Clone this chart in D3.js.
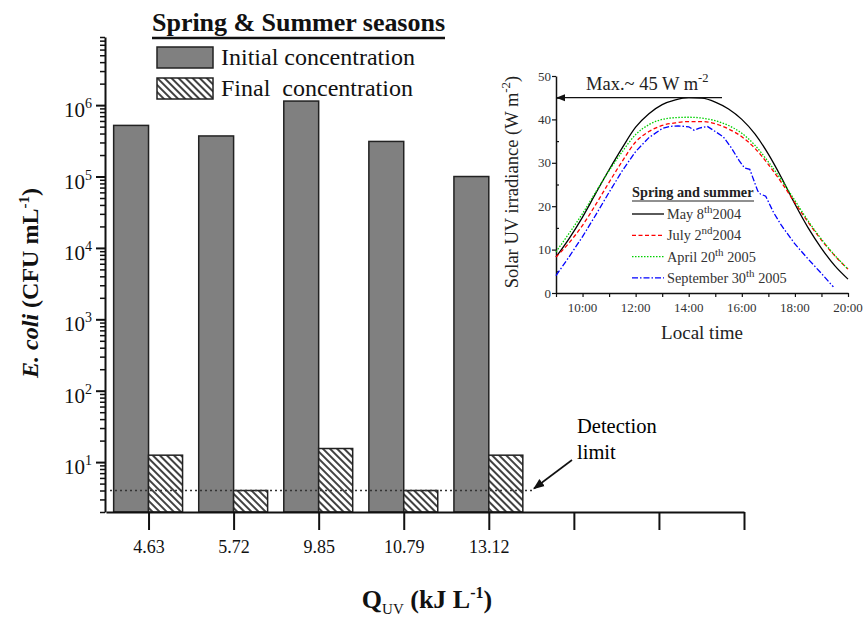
<!DOCTYPE html>
<html>
<head>
<meta charset="utf-8">
<script src="https://d3js.org/d3.v7.min.js"></script>
<style>
  body { margin: 0; background: #fff; }
  svg { font-family: "Liberation Serif", "Times New Roman", serif; }
</style>
</head>
<body>
<script>
// Main chart data
const categories = ["4.63", "5.72", "9.85", "10.79", "13.12", "", "", ""];
const initialConc = [5.2e5, 3.7e5, 1.14e6, 3.1e5, 1.0e5];
const finalConc = [12.5, 4, 15.5, 4, 12.5];
const detectionLimit = 4;
const yExponents = [1, 2, 3, 4, 5, 6];

// Inset data (solar UV irradiance, W m-2, vs local time in hours)
const uvHours = [9, 9.5, 10, 10.5, 11, 11.5, 12, 12.5, 13, 13.5, 14, 14.5, 15, 15.5, 16, 16.5, 17, 17.5, 18, 18.5, 19, 19.5, 20];
const may2004 = [8.3, 12.6, 17.5, 23.0, 28.4, 33.5, 38.2, 41.3, 43.4, 44.5, 45.0, 44.9, 44.0, 42.4, 40.0, 36.6, 32.0, 26.5, 20.5, 15.0, 10.3, 6.3, 3.2];
const july2004 = [8.3, 11.6, 15.6, 20.4, 25.5, 30.4, 34.8, 37.2, 38.6, 39.2, 39.5, 39.5, 39.0, 37.8, 36.0, 33.3, 29.6, 25.4, 20.8, 16.3, 12.2, 8.6, 5.5];
const april2005 = [9.5, 13.8, 18.3, 23.3, 28.2, 32.6, 36.5, 38.8, 40.0, 40.4, 40.5, 40.3, 39.7, 38.6, 36.8, 34.0, 30.2, 26.0, 21.3, 16.6, 12.4, 8.7, 5.5];
const septHours = [9, 9.5, 10, 10.5, 11, 11.5, 12, 12.5, 13, 13.3, 13.6, 14.0, 14.2, 14.4, 14.7, 15.0, 15.3, 15.6, 15.9, 16.1, 16.3, 16.6, 16.7, 16.9, 17.2, 17.5, 18, 18.5, 19, 19.45];
const sept2005 = [4.0, 8.4, 13.0, 18.0, 23.2, 28.2, 32.6, 35.8, 37.9, 38.4, 38.5, 38.3, 37.5, 38.0, 38.4, 37.2, 36.0, 33.5, 30.5, 28.8, 28.5, 23.5, 22.8, 22.3, 18.5, 15.5, 11.3, 7.8, 4.5, 1.4];
const insetHourTicks = [10, 12, 14, 16, 18, 20];
const insetYTicks = [0, 10, 20, 30, 40, 50];

const width = 866;
const height = 617;

const svg = d3.select("body").append("svg")
  .attr("width", width)
  .attr("height", height);

svg.append("rect").attr("width", width).attr("height", height).attr("fill", "#fff");

// hatch pattern for final concentration
const defs = svg.append("defs");
defs.append("pattern")
  .attr("id", "hatch")
  .attr("patternUnits", "userSpaceOnUse")
  .attr("width", 5)
  .attr("height", 5)
  .attr("patternTransform", "rotate(-45)")
  .call(function (p) {
    p.append("rect").attr("width", 5).attr("height", 5).attr("fill", "#fff");
    p.append("line").attr("x1", 1).attr("y1", 0).attr("x2", 1).attr("y2", 5)
      .attr("stroke", "#111").attr("stroke-width", 1.6);
  });

defs.append("marker")
  .attr("id", "arrow")
  .attr("viewBox", "0 0 10 10")
  .attr("refX", 9).attr("refY", 5)
  .attr("markerWidth", 7).attr("markerHeight", 7)
  .attr("orient", "auto-start-reverse")
  .append("path").attr("d", "M0,1L10,5L0,9Z").attr("fill", "#111");

// scales of the main chart
const x = d3.scaleLinear().domain([-0.5, 7]).range([106, 744]);
const y = d3.scaleLog().domain([2, 9e6]).range([512, 37]);

// bars
const barW0 = 0.41;
const barW1 = 0.4;

svg.append("g").selectAll("rect")
  .data(initialConc)
  .join("rect")
  .attr("x", (d, i) => x(i - barW0))
  .attr("width", (d, i) => x(i) - x(i - barW0))
  .attr("y", d => y(d))
  .attr("height", d => y(2) - y(d))
  .attr("fill", "#808080")
  .attr("stroke", "#222")
  .attr("stroke-width", 1.5);

svg.append("g").selectAll("rect")
  .data(finalConc)
  .join("rect")
  .attr("x", (d, i) => x(i))
  .attr("width", (d, i) => x(i + barW1) - x(i))
  .attr("y", d => y(d))
  .attr("height", d => y(2) - y(d))
  .attr("fill", "url(#hatch)")
  .attr("stroke", "#222")
  .attr("stroke-width", 1.5);

// detection limit
svg.append("line")
  .attr("x1", 110).attr("x2", 533)
  .attr("y1", y(detectionLimit)).attr("y2", y(detectionLimit))
  .attr("stroke", "#333")
  .attr("stroke-width", 1.6)
  .attr("stroke-dasharray", "2,3");

svg.append("line")
  .attr("x1", 572).attr("y1", 460)
  .attr("x2", 534).attr("y2", y(detectionLimit) - 2)
  .attr("stroke", "#111")
  .attr("stroke-width", 1.6)
  .attr("marker-end", "url(#arrow)");

svg.append("text").attr("x", 577).attr("y", 433).attr("font-size", 20.5).text("Detection");
svg.append("text").attr("x", 577).attr("y", 459).attr("font-size", 20.5).text("limit");

// x axis
const xAxis = svg.append("g")
  .attr("transform", `translate(0,${y(2)})`)
  .call(d3.axisBottom(x)
    .tickValues(d3.range(categories.length))
    .tickSize(18)
    .tickSizeOuter(0)
    .tickPadding(10)
    .tickFormat(i => categories[i]));
xAxis.select(".domain").attr("stroke", "#111").attr("stroke-width", 2);
xAxis.selectAll(".tick line").attr("stroke", "#111").attr("stroke-width", 2);
xAxis.selectAll(".tick text")
  .attr("font-family", "Liberation Serif")
  .attr("font-size", 18)
  .attr("fill", "#111");

// y axis: minor ticks, then majors
const minorTicks = [];
for (let e = 0; e <= 6; e++) {
  for (let m = 2; m <= 9; m++) {
    const v = m * Math.pow(10, e);
    if (v >= 2 && v <= 9e6) minorTicks.push(v);
  }
}
const yMinor = svg.append("g")
  .attr("transform", "translate(105,0)")
  .call(d3.axisLeft(y).tickValues(minorTicks).tickSize(5).tickFormat(""));
yMinor.select(".domain").remove();
yMinor.selectAll(".tick line").attr("stroke", "#111").attr("stroke-width", 1.5);

const yMajor = svg.append("g")
  .attr("transform", "translate(105,0)")
  .call(d3.axisLeft(y)
    .tickValues(yExponents.map(e => Math.pow(10, e)))
    .tickSize(9)
    .tickSizeOuter(0)
    .tickFormat(""));
yMajor.select(".domain").attr("stroke", "#111").attr("stroke-width", 2);
yMajor.selectAll(".tick line").attr("stroke", "#111").attr("stroke-width", 2);

// y tick labels 10^n
const yLab = svg.append("g").selectAll("text")
  .data(yExponents)
  .join("text")
  .attr("x", 92)
  .attr("y", e => y(Math.pow(10, e)) + 12)
  .attr("text-anchor", "end")
  .attr("font-size", 21)
  .attr("fill", "#111");
yLab.append("tspan").text("10");
yLab.append("tspan").attr("dy", -9).attr("font-size", 14).text(e => e);

// y title
const yTitle = svg.append("text")
  .attr("transform", "translate(38,283) rotate(-90)")
  .attr("text-anchor", "middle")
  .attr("font-size", 24)
  .attr("font-weight", "bold")
  .attr("fill", "#111");
yTitle.append("tspan").attr("font-style", "italic").text("E. coli");
yTitle.append("tspan").text(" (CFU mL");
yTitle.append("tspan").attr("dy", -9).attr("font-size", 15).text("-1");
yTitle.append("tspan").attr("dy", 9).text(")");

// x title
const xTitle = svg.append("text")
  .attr("x", 427).attr("y", 608)
  .attr("text-anchor", "middle")
  .attr("font-size", 26)
  .attr("font-weight", "bold")
  .attr("fill", "#111");
xTitle.append("tspan").text("Q");
xTitle.append("tspan").attr("dy", 6).attr("font-size", 15).attr("font-weight", "normal").text("UV");
xTitle.append("tspan").attr("dy", -6).text(" (kJ L");
xTitle.append("tspan").attr("dy", -10).attr("font-size", 16).text("-1");
xTitle.append("tspan").attr("dy", 10).text(")");

// main legend
svg.append("text")
  .attr("x", 152).attr("y", 31)
  .attr("font-size", 26).attr("font-weight", "bold").attr("fill", "#111")
  .attr("textLength", 293)
  .text("Spring & Summer seasons");
svg.append("line")
  .attr("x1", 152).attr("x2", 445).attr("y1", 38).attr("y2", 38)
  .attr("stroke", "#111").attr("stroke-width", 2.5);
svg.append("rect").attr("x", 157).attr("y", 47).attr("width", 56).attr("height", 21)
  .attr("fill", "#808080").attr("stroke", "#222").attr("stroke-width", 1.5);
svg.append("rect").attr("x", 157).attr("y", 78).attr("width", 56).attr("height", 21)
  .attr("fill", "url(#hatch)").attr("stroke", "#222").attr("stroke-width", 1.5);
svg.append("text").attr("x", 221).attr("y", 65).attr("font-size", 24).attr("fill", "#111")
  .text("Initial concentration");
svg.append("text").attr("x", 221).attr("y", 96).attr("font-size", 24).attr("fill", "#111")
  .style("white-space", "pre")
  .text("Final  concentration");

// ---- inset chart ----
const ix = d3.scaleLinear().domain([9, 20]).range([556, 848]);
const iy = d3.scaleLinear().domain([0, 50]).range([293, 76]);

const ixAxis = svg.append("g")
  .attr("transform", `translate(0,${iy(0)})`)
  .call(d3.axisBottom(ix).tickValues(d3.range(9, 21)).tickSize(4).tickSizeOuter(0).tickFormat(""));
ixAxis.select(".domain").attr("stroke", "#111").attr("stroke-width", 1.5);
ixAxis.selectAll(".tick line").attr("stroke", "#111").attr("stroke-width", 1.2);

svg.append("g").selectAll("text")
  .data(insetHourTicks)
  .join("text")
  .attr("x", d => ix(d))
  .attr("y", iy(0) + 19)
  .attr("text-anchor", "middle")
  .attr("font-size", 13)
  .attr("fill", "#333")
  .text(d => d + ":00");

const iyAxis = svg.append("g")
  .attr("transform", `translate(${ix(9)},0)`)
  .call(d3.axisLeft(iy).tickValues(insetYTicks).tickSize(4).tickSizeOuter(0).tickPadding(1));
iyAxis.select(".domain").attr("stroke", "#111").attr("stroke-width", 1.5);
iyAxis.selectAll(".tick line").attr("stroke", "#111").attr("stroke-width", 1.2);
iyAxis.selectAll(".tick text").attr("font-family", "Liberation Serif").attr("font-size", 13).attr("fill", "#333");

const iyMinor = svg.append("g")
  .attr("transform", `translate(${ix(9)},0)`)
  .call(d3.axisRight(iy).tickValues([5, 15, 25, 35, 45]).tickSize(3).tickFormat(""));
iyMinor.select(".domain").remove();
iyMinor.selectAll(".tick line").attr("stroke", "#111").attr("stroke-width", 1.2);

const iTitle = svg.append("text")
  .attr("transform", "translate(518,182) rotate(-90)")
  .attr("text-anchor", "middle")
  .attr("font-size", 18.5)
  .attr("fill", "#222");
iTitle.append("tspan").text("Solar UV irradiance (W m");
iTitle.append("tspan").attr("dy", -8).attr("font-size", 13).text("-2");
iTitle.append("tspan").attr("dy", 8).text(")");

svg.append("text")
  .attr("x", ix(14.5)).attr("y", 339)
  .attr("text-anchor", "middle")
  .attr("font-size", 19)
  .attr("fill", "#222")
  .text("Local time");

// curves
const line = d3.line()
  .x(d => ix(d[0]))
  .y(d => iy(d[1]))
  .curve(d3.curveMonotoneX);

const seriesList = [
  { name: "May 8", sup: "th", year: "2004", hours: uvHours, values: may2004, color: "#000", dash: null },
  { name: "July 2", sup: "nd", year: "2004", hours: uvHours, values: july2004, color: "#ff0000", dash: "4,2.5" },
  { name: "April 20", sup: "th", year: " 2005", hours: uvHours, values: april2005, color: "#00d000", dash: "1.5,1.5" },
  { name: "September 30", sup: "th", year: " 2005", hours: septHours, values: sept2005, color: "#0000ff", dash: "6,2,1.5,2" }
];

seriesList.forEach(function (s) {
  svg.append("path")
    .datum(s.hours.map((h, i) => [h, s.values[i]]))
    .attr("d", s.color === "#0000ff" ? line.curve(d3.curveLinear) : line.curve(d3.curveMonotoneX))
    .attr("fill", "none")
    .attr("stroke", s.color)
    .attr("stroke-width", 1.3)
    .attr("stroke-dasharray", s.dash);
});

// max annotation
svg.append("line")
  .attr("x1", 722).attr("x2", ix(9) + 1)
  .attr("y1", iy(45)).attr("y2", iy(45))
  .attr("stroke", "#111").attr("stroke-width", 1.3)
  .attr("marker-end", "url(#arrow)");
const maxText = svg.append("text")
  .attr("x", 586).attr("y", 90)
  .attr("font-size", 18.5)
  .attr("fill", "#222");
maxText.append("tspan").text("Max.~ 45 W m");
maxText.append("tspan").attr("dy", -8).attr("font-size", 12.5).text("-2");

// inset legend
svg.append("text")
  .attr("x", 632).attr("y", 197)
  .attr("font-size", 14.3).attr("font-weight", "bold").attr("fill", "#222")
  .text("Spring and summer");
svg.append("line")
  .attr("x1", 632).attr("x2", 754).attr("y1", 201).attr("y2", 201)
  .attr("stroke", "#222").attr("stroke-width", 1.2);

seriesList.forEach(function (s, i) {
  const ly = 214 + i * 21.3;
  svg.append("line")
    .attr("x1", 632).attr("x2", 664).attr("y1", ly).attr("y2", ly)
    .attr("stroke", s.color).attr("stroke-width", 1.3).attr("stroke-dasharray", s.dash);
  const t = svg.append("text")
    .attr("x", 667).attr("y", ly + 5)
    .attr("font-size", 14.3).attr("fill", "#333")
    .style("white-space", "pre");
  t.append("tspan").text(s.name);
  t.append("tspan").attr("dy", -6).attr("font-size", 11).text(s.sup);
  t.append("tspan").attr("dy", 6).text(s.year);
});
</script>
</body>
</html>
